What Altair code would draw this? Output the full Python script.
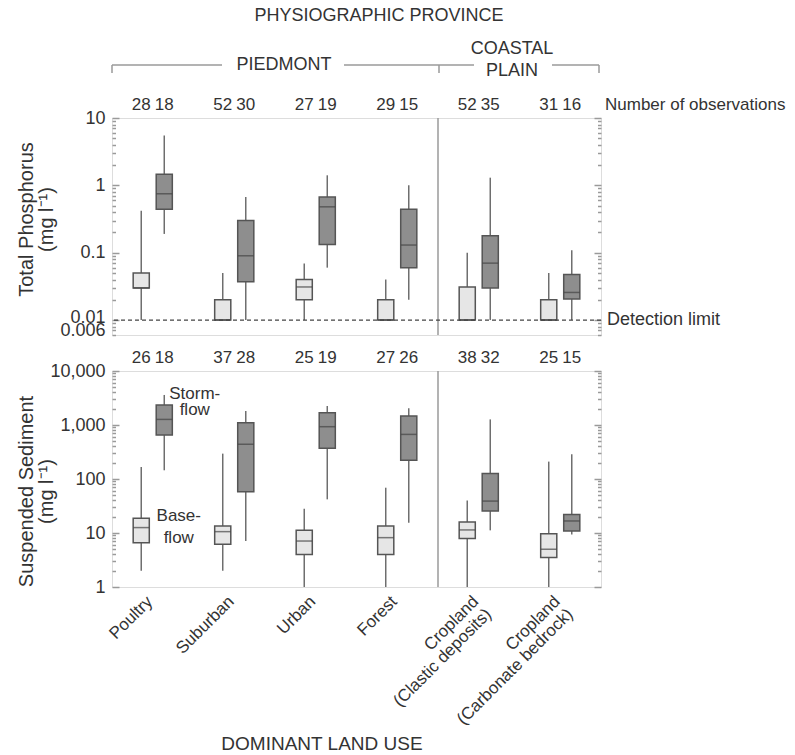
import altair as alt
import pandas as pd

CATEGORIES = ["Poultry", "Suburban", "Urban", "Forest",
              "Cropland\n(Clastic deposits)", "Cropland\n(Carbonate bedrock)"]
FLOWS = ["Base-flow", "Storm-flow"]

# ---- Total phosphorus (mg/l) ----
TP_N_BASE = [28, 52, 27, 29, 52, 31]
TP_N_STORM = [18, 30, 19, 15, 35, 16]
TP_BASE_LO = [0.01, 0.01, 0.01, 0.01, 0.01, 0.01]
TP_BASE_Q1 = [0.03, 0.01, 0.02, 0.01, 0.01, 0.01]
TP_BASE_MED = [0.03, 0.01, 0.031, 0.01, 0.01, 0.01]
TP_BASE_Q3 = [0.05, 0.02, 0.04, 0.02, 0.031, 0.02]
TP_BASE_HI = [0.42, 0.05, 0.069, 0.04, 0.10, 0.05]
TP_STORM_LO = [0.19, 0.01, 0.06, 0.02, 0.01, 0.01]
TP_STORM_Q1 = [0.44, 0.037, 0.132, 0.06, 0.03, 0.0205]
TP_STORM_MED = [0.75, 0.09, 0.48, 0.13, 0.07, 0.0257]
TP_STORM_Q3 = [1.46, 0.30, 0.67, 0.44, 0.178, 0.0475]
TP_STORM_HI = [5.5, 0.67, 1.41, 1.0, 1.30, 0.109]

# ---- Suspended sediment (mg/l) ----
SS_N_BASE = [26, 37, 25, 27, 38, 25]
SS_N_STORM = [18, 28, 19, 26, 32, 15]
SS_BASE_LO = [2.0, 2.0, 1, 1, 1, 1]
SS_BASE_Q1 = [6.6, 6.2, 4.0, 4.0, 7.9, 3.5]
SS_BASE_MED = [12.6, 10.6, 7.1, 8.2, 11.4, 5.0]
SS_BASE_Q3 = [18.7, 13.5, 11.2, 13.5, 16, 9.7]
SS_BASE_HI = [167, 295, 28, 69, 40, 210]
SS_STORM_LO = [145, 7.1, 42, 15.5, 11.2, 9.4]
SS_STORM_Q1 = [650, 58, 370, 222, 25.5, 10.9]
SS_STORM_MED = [1270, 440, 930, 670, 39, 16.7]
SS_STORM_Q3 = [2350, 1100, 1690, 1470, 126, 22]
SS_STORM_HI = [3600, 1820, 2250, 2040, 1270, 286]

# ---- axis ticks ----
TP_DOMAIN = [0.006, 10]
TP_LABELS = [0.006, 0.01, 0.1, 1, 10]
TP_MAJOR = [0.01, 0.1, 1, 10]
TP_MINOR = [0.006, 0.007, 0.008, 0.009,
            0.02, 0.03, 0.04, 0.05, 0.06, 0.07, 0.08, 0.09,
            0.2, 0.3, 0.4, 0.5, 0.6, 0.7, 0.8, 0.9,
            2, 3, 4, 5, 6, 7, 8, 9]
SS_DOMAIN = [1, 10000]
SS_LABELS = [1, 10, 100, 1000, 10000]
SS_MAJOR = [1, 10, 100, 1000, 10000]
SS_MINOR = [2, 3, 4, 5, 6, 7, 8, 9,
            20, 30, 40, 50, 60, 70, 80, 90,
            200, 300, 400, 500, 600, 700, 800, 900,
            2000, 3000, 4000, 5000, 6000, 7000, 8000, 9000]

W = 489
H_TOP = 217
H_BOT = 216
FONT = "Liberation Sans"
TXT = "#333333"
FRAME = "#9a9a9a"


def make_df(nb, ns, blo, bq1, bmed, bq3, bhi, slo, sq1, smed, sq3, shi):
    rows = []
    for i, c in enumerate(CATEGORIES):
        rows.append(dict(cat=c, flow=FLOWS[0], n=nb[i], lo=blo[i], q1=bq1[i],
                         med=bmed[i], q3=bq3[i], hi=bhi[i]))
        rows.append(dict(cat=c, flow=FLOWS[1], n=ns[i], lo=slo[i], q1=sq1[i],
                         med=smed[i], q3=sq3[i], hi=shi[i]))
    return pd.DataFrame(rows)


tp_df = make_df(TP_N_BASE, TP_N_STORM, TP_BASE_LO, TP_BASE_Q1, TP_BASE_MED,
                TP_BASE_Q3, TP_BASE_HI, TP_STORM_LO, TP_STORM_Q1, TP_STORM_MED,
                TP_STORM_Q3, TP_STORM_HI)
ss_df = make_df(SS_N_BASE, SS_N_STORM, SS_BASE_LO, SS_BASE_Q1, SS_BASE_MED,
                SS_BASE_Q3, SS_BASE_HI, SS_STORM_LO, SS_STORM_Q1, SS_STORM_MED,
                SS_STORM_Q3, SS_STORM_HI)
cat_df = pd.DataFrame({"cat": CATEGORIES})
dummy = pd.DataFrame({"k": [0]})

x_scale = alt.Scale(domain=CATEGORIES, paddingInner=0, paddingOuter=0)
xo_scale = alt.Scale(domain=FLOWS, paddingInner=0.3, paddingOuter=0.92)


def tick_axis(orient, values, size):
    return alt.Axis(orient=orient, offset=-W, values=values, tickSize=size,
                    tickColor=FRAME, tickWidth=1.5, labels=False, domain=False,
                    grid=False, title=None)


def panel(df, domain, labels, major, minor, title, title_y):
    ys = alt.Scale(type="log", domain=domain, nice=False, clamp=True)
    X = alt.X("cat:N", scale=x_scale, sort=CATEGORIES, axis=None)
    XO = alt.XOffset("flow:N", scale=xo_scale, sort=FLOWS)
    base = alt.Chart(df).encode(x=X, xOffset=XO)

    label_axis = alt.Axis(
        orient="left", values=labels, ticks=False, domain=False, grid=False,
        labelExpr="format(datum.value, ',~g')", labelFontSize=18,
        labelColor=TXT, labelPadding=7, labelFont=FONT, labelOverlap=False,
        labelBaseline={"condition": {"test": "datum.value < 0.007",
                                     "value": "alphabetic"},
                       "value": "middle"},
        labelOffset={"condition": {"test": "abs(datum.value - 0.01) < 1e-9",
                                   "value": -3},
                     "value": 0},
        title=title, titleX=-96, titleY=title_y, titleAngle=270,
        titleAlign="center", titleBaseline="top", titleFontSize=20,
        titleFontWeight="normal", titleColor=TXT, titleFont=FONT,
        titleLineHeight=20)

    whisk = base.mark_rule(color="#6e6e6e", strokeWidth=1.5).encode(
        y=alt.Y("lo:Q", scale=ys, axis=label_axis), y2="hi:Q")
    box = base.mark_bar(stroke="#555555", strokeWidth=1.5).encode(
        y=alt.Y("q1:Q", scale=ys, axis=tick_axis("right", major, 7)),
        y2="q3:Q",
        fill=alt.Fill("flow:N", scale=alt.Scale(domain=FLOWS,
                      range=["#e6e6e6", "#8e8e8e"]), legend=None))
    med = base.mark_tick(color="#444444", thickness=1.5, size=16).encode(
        y=alt.Y("med:Q", scale=ys, axis=tick_axis("right", minor, 3.5)))
    g1 = base.mark_point(opacity=0).encode(
        y=alt.Y("med:Q", scale=ys, axis=tick_axis("left", major, 7)))
    g2 = base.mark_point(opacity=0).encode(
        y=alt.Y("med:Q", scale=ys, axis=tick_axis("left", minor, 3.5)))
    counts = base.mark_text(fontSize=17, color=TXT, font=FONT,
                            baseline="middle").encode(
        y=alt.value(-13), text="n:Q")
    divider = alt.Chart(pd.DataFrame({"cat": [CATEGORIES[4]]})).mark_rule(
        color=FRAME, strokeWidth=1.5).encode(
        x=alt.X("cat:N", scale=x_scale, sort=CATEGORIES, axis=None,
                bandPosition=0))
    return [whisk, box, med, g1, g2, counts, divider], ys


# ---------------- top panel ----------------
top_layers, tp_ys = panel(tp_df, TP_DOMAIN, TP_LABELS, TP_MAJOR, TP_MINOR,
                          ["Total Phosphorus", "(mg l\u207b\u00b9)"], 101)
det = alt.Chart(dummy).mark_rule(color="#444444", strokeDash=[4, 3],
                                 strokeWidth=1.2).encode(
    y=alt.YDatum(0.01, scale=tp_ys, axis=None))
det_txt = alt.Chart(dummy).mark_text(text="Detection limit", fontSize=18,
                                     font=FONT, color=TXT, align="left",
                                     baseline="middle").encode(
    x=alt.value(W + 6), y=alt.YDatum(0.01, scale=tp_ys, axis=None))
nobs = alt.Chart(dummy).mark_text(text="Number of observations", fontSize=17,
                                  font=FONT, color=TXT, align="left",
                                  baseline="middle").encode(
    x=alt.value(W + 4), y=alt.value(-13))
hdr = alt.Chart(dummy).mark_text(text="PHYSIOGRAPHIC PROVINCE", fontSize=18,
                                 font=FONT, color=TXT, baseline="middle").encode(
    x=alt.value(267), y=alt.value(-102))
pied = alt.Chart(dummy).mark_text(text="PIEDMONT", fontSize=18, font=FONT,
                                  color=TXT, baseline="middle").encode(
    x=alt.value(172), y=alt.value(-53))
coast = alt.Chart(dummy).mark_text(text=["COASTAL", "PLAIN"], fontSize=18,
                                   font=FONT, color=TXT, baseline="middle",
                                   lineHeight=22).encode(
    x=alt.value(400), y=alt.value(-69))
brackets = []
for a, b in [(0, 110), (232, 362), (440, 487)]:
    brackets.append(alt.Chart(dummy).mark_rule(color=FRAME, strokeWidth=1.5)
                    .encode(x=alt.value(a), x2=alt.value(b), y=alt.value(-53)))
for a in [0, 327, 487]:
    brackets.append(alt.Chart(dummy).mark_rule(color=FRAME, strokeWidth=1.5)
                    .encode(x=alt.value(a), y=alt.value(-53), y2=alt.value(-45)))

top = alt.layer(*top_layers, det, det_txt, nobs, hdr, pied, coast,
                *brackets).resolve_axis(y="independent").properties(
    width=W, height=H_TOP)

# ---------------- bottom panel ----------------
bot_layers, ss_ys = panel(ss_df, SS_DOMAIN, SS_LABELS, SS_MAJOR, SS_MINOR,
                          ["Suspended Sediment", "(mg l\u207b\u00b9)"], 120)
storm_lbl = alt.Chart(dummy).mark_text(
    text=["Storm-", "flow"], fontSize=17, font=FONT, color=TXT,
    baseline="middle", lineHeight=16, dx=42).encode(
    x=alt.XDatum("Poultry", scale=x_scale, axis=None),
    y=alt.YDatum(3750, scale=ss_ys, axis=None))
base_lbl = alt.Chart(dummy).mark_text(
    text=["Base-", "flow"], fontSize=17, font=FONT, color=TXT,
    baseline="middle", lineHeight=22, dx=26).encode(
    x=alt.XDatum("Poultry", scale=x_scale, axis=None),
    y=alt.YDatum(20.6, scale=ss_ys, axis=None))
x_labels = alt.Chart(cat_df).mark_text(
    angle=315, align="right", baseline="top", fontSize=17, font=FONT,
    color=TXT, lineBreak="\n", lineHeight=18, dx=-7, dy=-5).encode(
    x=alt.X("cat:N", scale=x_scale, sort=CATEGORIES, axis=None),
    y=alt.value(H_BOT + 5), text="cat:N")
x_title = alt.Chart(dummy).mark_text(
    text="DOMINANT LAND USE", fontSize=19, font=FONT, color=TXT,
    baseline="middle").encode(x=alt.value(210), y=alt.value(H_BOT + 157))

bottom = alt.layer(*bot_layers, storm_lbl, base_lbl, x_labels,
                   x_title).resolve_axis(y="independent").properties(
    width=W, height=H_BOT)

chart = alt.vconcat(top, bottom, spacing=36, bounds="flush").configure_view(
    stroke=FRAME, strokeWidth=2).configure(
    font=FONT, padding={"left": 15, "top": 6, "right": 2, "bottom": 4})

chart.save("out.html", embed_options={"renderer": "svg", "actions": False})
